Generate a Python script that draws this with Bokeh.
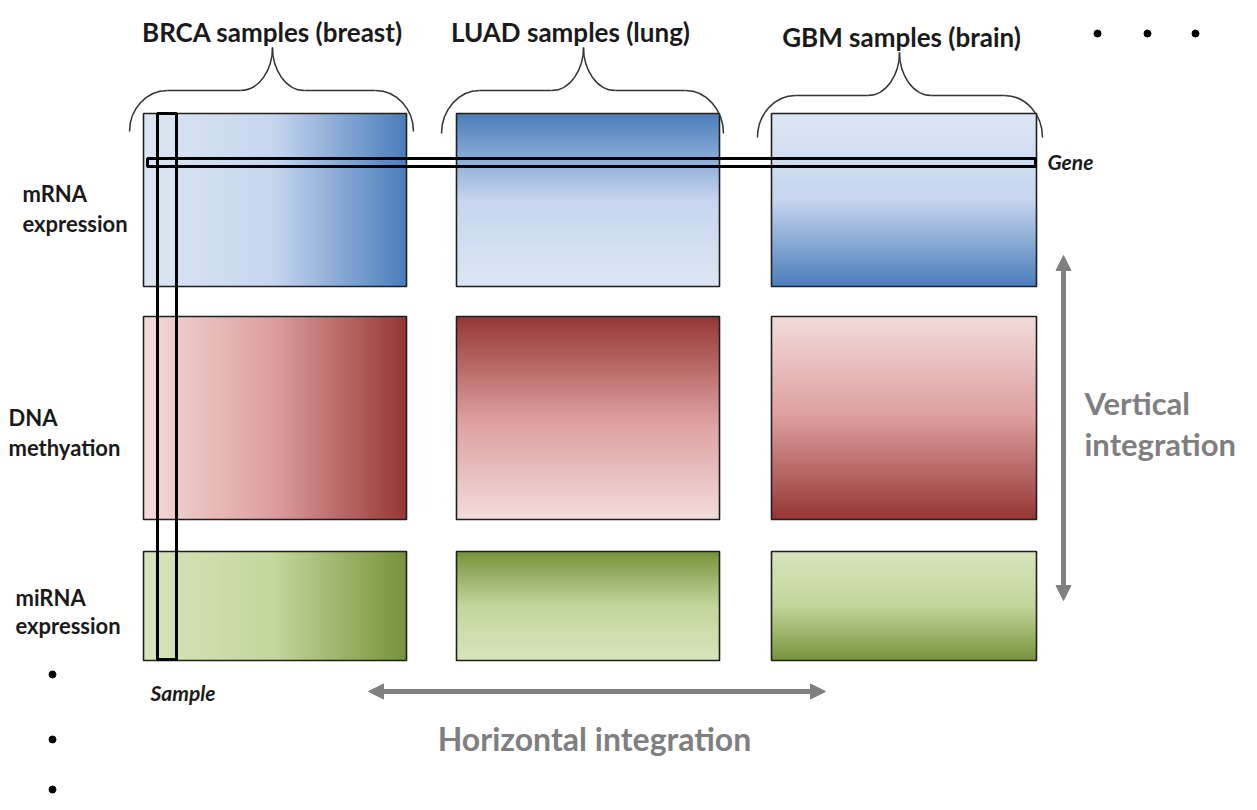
import numpy as np
from bokeh.plotting import figure
from bokeh.models import Range1d, Arrow, NormalHead
from bokeh.core.properties import value
from bokeh.embed import file_html
from bokeh.resources import INLINE

# ---------------- data (reference pixel positions, y measured from top) ----------------
groups = ["BRCA samples (breast)", "LUAD samples (lung)", "GBM samples (brain)"]
group_left = [143, 456, 771]
group_right = [406, 719, 1036]
group_label_x = [272, 570, 901]
group_label_y = [31, 31, 36]
group_gradient = ["horizontal", "dark_top", "light_top"]

brace_left = [129, 441, 757]
brace_right = [413, 723, 1042]
brace_tip = [272, 583, 899]
brace_end_y = [131, 133, 137]
brace_mid_y = [90, 90, 95]
brace_tip_y = [47, 47, 52]

omics_line1 = ["mRNA", "DNA", "miRNA"]
omics_line2 = ["expression", "methyation", "expression"]
omics_label_x = [22, 8, 15]
omics_line1_y = [193, 417, 597]
omics_line2_y = [223, 447, 625]
row_top = [113, 316, 551]
row_bottom = [286, 519, 660]
row_light = ["#dce6f4", "#f2dcdb", "#d7e4bd"]
row_mid = ["#c6d5ee", "#dc9e9d", "#c3d69b"]
row_dark = ["#4a7ebb", "#953735", "#77933c"]

sample_box = [157, 176, 113, 659]   # left, right, top, bottom
gene_box = [147, 1035, 158, 166]
sample_label = ("Sample", 150, 692)
gene_label = ("Gene", 1047, 161)

h_arrow = [368, 825, 691]           # x start, x end, y
v_arrow = [1063, 255, 600]          # x, y start, y end
h_text = ("Horizontal integration", 594, 738)
v_text_lines = ["Vertical", "integration"]
v_text_x = 1084
v_text_y = [402, 443]

top_dots_x = [1097, 1147, 1195]
top_dots_y = [33, 33, 33]
left_dots_x = [52, 52, 52]
left_dots_y = [674, 739, 789]

FLIP = 810


def yd(v):
    return FLIP - v


def hex_rgb(h):
    return [int(h[i:i + 2], 16) for i in (1, 3, 5)]


def ramp(light, mid, dark, n=256):
    t = np.linspace(0, 1, n)
    stops = [hex_rgb(light), hex_rgb(mid), hex_rgb(dark)]
    out = np.empty((n, 3))
    for k in range(3):
        out[:, k] = np.interp(t, [0, 0.5, 1], [s[k] for s in stops])
    return out.round().astype(np.uint8)


def gradient_image(rgb, mode):
    n = rgb.shape[0]
    shape = (1, n) if mode == "horizontal" else (n, 1)
    img = np.empty(shape, dtype=np.uint32)
    view = img.view(dtype=np.uint8).reshape(shape + (4,))
    view[..., 3] = 255
    if mode == "horizontal":
        view[0, :, 0:3] = rgb
    elif mode == "dark_top":
        view[:, 0, 0:3] = rgb
    else:
        view[:, 0, 0:3] = rgb[::-1]
    return img


p = figure(width=1241, height=794, output_backend="svg", toolbar_location=None,
           x_range=Range1d(0, 1241), y_range=Range1d(16, 810), min_border=0)
p.axis.visible = False
p.grid.visible = False
p.outline_line_color = None
p.background_fill_color = "white"
p.border_fill_color = "white"

# gradient panels
for gi in range(3):
    for ri in range(3):
        rgb = ramp(row_light[ri], row_mid[ri], row_dark[ri])
        img = gradient_image(rgb, group_gradient[gi])
        p.image_rgba(image=[img], x=group_left[gi], y=yd(row_bottom[ri]),
                     dw=group_right[gi] - group_left[gi], dh=row_bottom[ri] - row_top[ri])

ql, qr, qt, qb = [], [], [], []
for gi in range(3):
    for ri in range(3):
        ql.append(group_left[gi]); qr.append(group_right[gi])
        qt.append(yd(row_top[ri])); qb.append(yd(row_bottom[ri]))
p.quad(left=ql, right=qr, top=qt, bottom=qb, fill_color=None,
       line_color="#1f1f1f", line_width=1.6)

# sample and gene highlight boxes
p.quad(left=[sample_box[0], gene_box[0]], right=[sample_box[1], gene_box[1]],
       top=[yd(sample_box[2]), yd(gene_box[2])], bottom=[yd(sample_box[3]), yd(gene_box[3])],
       fill_color=None, line_color="black", line_width=3)

# braces
r = 38.0
s = 32.0
k = 0.55
bz = dict(x0=[], y0=[], x1=[], y1=[], cx0=[], cy0=[], cx1=[], cy1=[])
sx0, sy0, sx1, sy1 = [], [], [], []


def add_bz(P0, C0, C1, P1):
    bz["x0"].append(P0[0]); bz["y0"].append(yd(P0[1]))
    bz["cx0"].append(C0[0]); bz["cy0"].append(yd(C0[1]))
    bz["cx1"].append(C1[0]); bz["cy1"].append(yd(C1[1]))
    bz["x1"].append(P1[0]); bz["y1"].append(yd(P1[1]))


for gi in range(3):
    x0, x1, xt = brace_left[gi], brace_right[gi], brace_tip[gi]
    ye, ym, yt = brace_end_y[gi], brace_mid_y[gi], brace_tip_y[gi]
    for sign, xe in ((1, x0), (-1, x1)):
        add_bz((xe, ye), (xe, ye - k * (ye - ym)), (xe + sign * (r - k * r), ym), (xe + sign * r, ym))
        sx0.append(xe + sign * r); sy0.append(yd(ym))
        sx1.append(xt - sign * s); sy1.append(yd(ym))
        add_bz((xt - sign * s, ym), (xt - sign * s * 0.4, ym), (xt, ym - (ym - yt) * 0.5), (xt, yt))
p.bezier(line_color="#333333", line_width=1.5, **bz)
p.segment(x0=sx0, y0=sy0, x1=sx1, y1=sy1, line_color="#333333", line_width=1.5)

# text
FONT = value("Lato")
p.text(x=group_label_x, y=[yd(v) for v in group_label_y], text=groups,
       text_font=FONT, text_font_style="bold", text_font_size="26px",
       text_align="center", text_baseline="alphabetic", text_color="#1a1a1a")
p.text(x=omics_label_x, y=[yd(v) for v in omics_line1_y], text=omics_line1,
       text_font=FONT, text_font_style="bold", text_font_size="22px",
       text_align="left", text_baseline="alphabetic", text_color="#1a1a1a")
p.text(x=omics_label_x, y=[yd(v) for v in omics_line2_y], text=omics_line2,
       text_font=FONT, text_font_style="bold", text_font_size="22px",
       text_align="left", text_baseline="alphabetic", text_color="#1a1a1a")
p.text(x=[sample_label[1], gene_label[1]], y=[yd(sample_label[2]), yd(gene_label[2])],
       text=[sample_label[0], gene_label[0]],
       text_font=FONT, text_font_style="bold italic", text_font_size="21px",
       text_align="left", text_baseline="alphabetic", text_color="#1a1a1a")
p.text(x=[h_text[1]], y=[yd(h_text[2])], text=[h_text[0]],
       text_font=FONT, text_font_style="bold", text_font_size="32px",
       text_align="center", text_baseline="alphabetic", text_color="#7f7f7f")
p.text(x=[v_text_x, v_text_x], y=[yd(v) for v in v_text_y], text=v_text_lines,
       text_font=FONT, text_font_style="bold", text_font_size="31px",
       text_align="left", text_baseline="alphabetic", text_color="#7f7f7f")

# arrows
GRAY = "#808080"
p.add_layout(Arrow(x_start=h_arrow[0], y_start=yd(h_arrow[2]), x_end=h_arrow[1], y_end=yd(h_arrow[2]),
                   line_color=GRAY, line_width=5,
                   start=NormalHead(size=15, fill_color=GRAY, line_color=GRAY),
                   end=NormalHead(size=15, fill_color=GRAY, line_color=GRAY)))
p.add_layout(Arrow(x_start=v_arrow[0], y_start=yd(v_arrow[1]), x_end=v_arrow[0], y_end=yd(v_arrow[2]),
                   line_color=GRAY, line_width=5,
                   start=NormalHead(size=15, fill_color=GRAY, line_color=GRAY),
                   end=NormalHead(size=15, fill_color=GRAY, line_color=GRAY)))

# ellipsis dots
p.scatter(x=top_dots_x + left_dots_x, y=[yd(v) for v in top_dots_y + left_dots_y],
          size=7, color="black")

open("out.html", "w").write(file_html(p, INLINE))
